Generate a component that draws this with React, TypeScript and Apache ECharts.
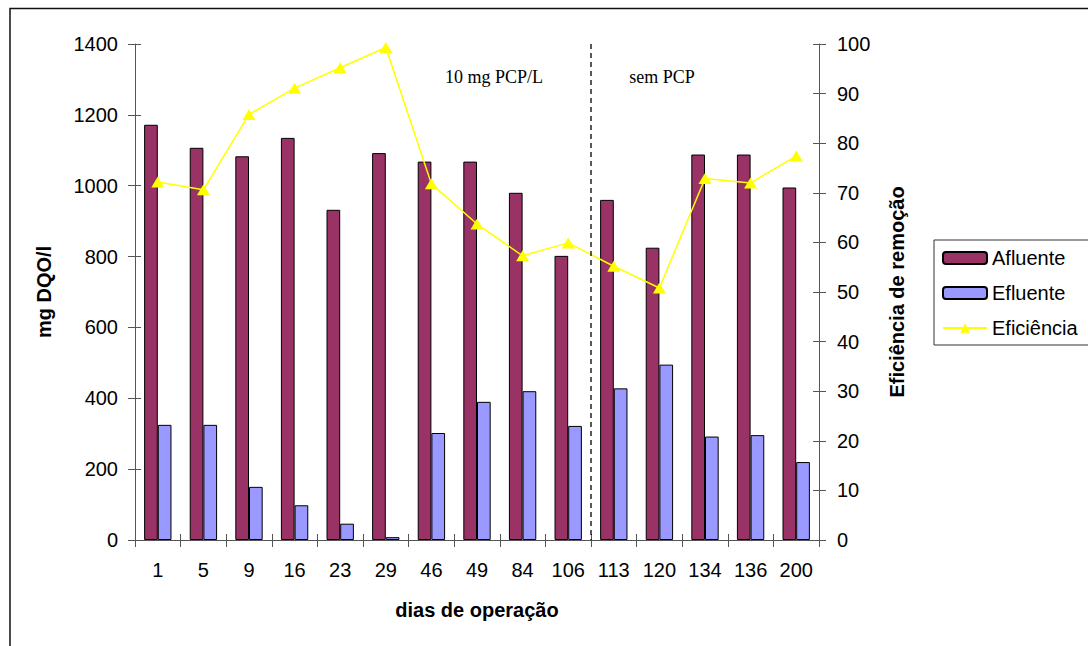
import React, { useEffect, useRef } from "react";
import * as echarts from "echarts";

// Operating days (category axis)
const categories = ["1", "5", "9", "16", "23", "29", "46", "49", "84", "106", "113", "120", "134", "136", "200"];
// COD in influent / effluent (mg DQO/l)
const afluente = [1172, 1107, 1083, 1135, 932, 1092, 1068, 1068, 980, 802, 960, 825, 1088, 1088, 995];
const efluente = [325, 325, 150, 98, 46, 8, 302, 390, 420, 322, 428, 495, 292, 296, 220];
// Removal efficiency (%)
const eficiencia = [72.2, 70.6, 85.8, 91.1, 95.2, 99.3, 71.8, 63.7, 57.3, 59.9, 55.2, 50.8, 72.9, 72.0, 77.4];
// Phase boundary: last day with PCP and first day without
const phaseEnd = "106";
const phaseStart = "113";

const FONT = "Liberation Sans, Arial, sans-serif";
const SERIF = "Liberation Serif, Times New Roman, serif";
const AXIS_COLOR = "#555";

export default function App() {
  const ref = useRef<HTMLDivElement>(null);

  useEffect(() => {
    if (!ref.current) return;
    const chart = echarts.init(ref.current, undefined, { renderer: "svg" });

    const tickLabel = {
      color: "#000",
      fontSize: 20,
      fontFamily: FONT,
      formatter: (v: number | string) => String(v),
    };
    const axisLine = { show: true, lineStyle: { color: AXIS_COLOR, width: 1 } };

    chart.setOption({
      animation: false,
      backgroundColor: "#fff",
      grid: { left: 135, right: 269, top: 44, bottom: 106, containLabel: false },
      legend: {
        orient: "vertical",
        left: 942,
        top: 248,
        padding: 0,
        itemWidth: 44,
        itemHeight: 12,
        itemGap: 15,
        textStyle: { color: "#000", fontSize: 20, fontFamily: FONT, lineHeight: 20 },
        data: ["Afluente", "Efluente", "Eficiência"],
      },
      xAxis: [
        {
          type: "category",
          data: categories,
          position: "bottom",
          name: "dias de operação",
          nameLocation: "middle",
          nameGap: 60,
          nameTextStyle: { color: "#000", fontSize: 20, fontWeight: "bold", fontFamily: FONT },
          axisLine,
          axisTick: { show: true, length: 7, lineStyle: { color: AXIS_COLOR } },
          axisLabel: { ...tickLabel, margin: 20 },
        },
        {
          type: "category",
          data: categories,
          position: "bottom",
          axisLine: { show: false },
          axisTick: { show: true, inside: true, length: 6, lineStyle: { color: AXIS_COLOR } },
          axisLabel: { show: false },
        },
      ],
      yAxis: [
        {
          type: "value",
          position: "left",
          min: 0,
          max: 1400,
          interval: 200,
          name: "mg DQO/l",
          nameLocation: "middle",
          nameRotate: 90,
          nameGap: 81,
          nameTextStyle: { color: "#000", fontSize: 20, fontWeight: "bold", fontFamily: FONT },
          axisLine,
          axisTick: { show: true, length: 7, lineStyle: { color: AXIS_COLOR } },
          axisLabel: { ...tickLabel, margin: 17 },
          splitLine: { show: false },
        },
        {
          type: "value",
          position: "right",
          min: 0,
          max: 100,
          interval: 10,
          name: "Eficiência de remoção",
          nameLocation: "middle",
          nameRotate: 90,
          nameGap: 68,
          nameTextStyle: { color: "#000", fontSize: 20, fontWeight: "bold", fontFamily: FONT },
          axisLine,
          axisTick: { show: true, length: 7, lineStyle: { color: AXIS_COLOR } },
          axisLabel: { ...tickLabel, margin: 18 },
          splitLine: { show: false },
        },
        {
          type: "value",
          position: "left",
          min: 0,
          max: 1400,
          interval: 200,
          axisLine: { show: false },
          axisTick: { show: true, inside: true, length: 6, lineStyle: { color: AXIS_COLOR } },
          axisLabel: { show: false },
          splitLine: { show: false },
        },
        {
          type: "value",
          position: "right",
          min: 0,
          max: 100,
          interval: 10,
          axisLine: { show: false },
          axisTick: { show: true, inside: true, length: 6, lineStyle: { color: AXIS_COLOR } },
          axisLabel: { show: false },
          splitLine: { show: false },
        },
      ],
      series: [
        {
          name: "Afluente",
          type: "bar",
          xAxisIndex: 0,
          yAxisIndex: 0,
          data: afluente,
          barGap: "0%",
          barCategoryGap: "40%",
          itemStyle: { color: "#993366", borderColor: "#000", borderWidth: 1 },
        },
        {
          name: "Efluente",
          type: "bar",
          xAxisIndex: 0,
          yAxisIndex: 0,
          data: efluente,
          barGap: "0%",
          barCategoryGap: "40%",
          itemStyle: { color: "#9999FF", borderColor: "#000", borderWidth: 1 },
        },
        {
          name: "Eficiência",
          type: "line",
          xAxisIndex: 0,
          yAxisIndex: 1,
          data: eficiencia,
          symbol: "triangle",
          symbolSize: [13, 11],
          lineStyle: { color: "#FFFF00", width: 1.5 },
          itemStyle: { color: "#FFFF00", borderWidth: 0 },
          z: 5,
        },
      ],
    });

    // Dashed separator between the two phases, placed on the category boundary
    const xa = chart.convertToPixel({ xAxisIndex: 0 }, phaseEnd) as number;
    const xb = chart.convertToPixel({ xAxisIndex: 0 }, phaseStart) as number;
    const yTop = chart.convertToPixel({ yAxisIndex: 0 }, 1400) as number;
    const yBottom = chart.convertToPixel({ yAxisIndex: 0 }, 0) as number;
    const xSep = (xa + xb) / 2;

    chart.setOption({
      graphic: [
        {
          type: "rect",
          shape: { x: 10, y: 8.5, width: 1200, height: 800 },
          style: { fill: "none", stroke: "#111", lineWidth: 1.5 },
          silent: true,
        },
        {
          type: "rect",
          shape: { x: 934, y: 240, width: 300, height: 105 },
          style: { fill: "none", stroke: "#333", lineWidth: 1 },
          silent: true,
        },
        {
          type: "line",
          shape: { x1: xSep, y1: yTop, x2: xSep, y2: yBottom },
          style: { stroke: "#000", lineWidth: 1.3, lineDash: [5, 4] },
          silent: true,
          z: 10,
        },
        {
          type: "text",
          x: 494,
          y: 77,
          style: {
            text: "10 mg PCP/L",
            fill: "#000",
            font: `18px ${SERIF}`,
            textAlign: "center",
            textVerticalAlign: "middle",
          },
          silent: true,
        },
        {
          type: "text",
          x: 662,
          y: 77,
          style: {
            text: "sem PCP",
            fill: "#000",
            font: `18px ${SERIF}`,
            textAlign: "center",
            textVerticalAlign: "middle",
          },
          silent: true,
        },
      ],
    });

    return () => chart.dispose();
  }, []);

  return (
    <div
      ref={ref}
      style={{ position: "absolute", left: 0, top: 0, width: 1088, height: 646 }}
    />
  );
}
